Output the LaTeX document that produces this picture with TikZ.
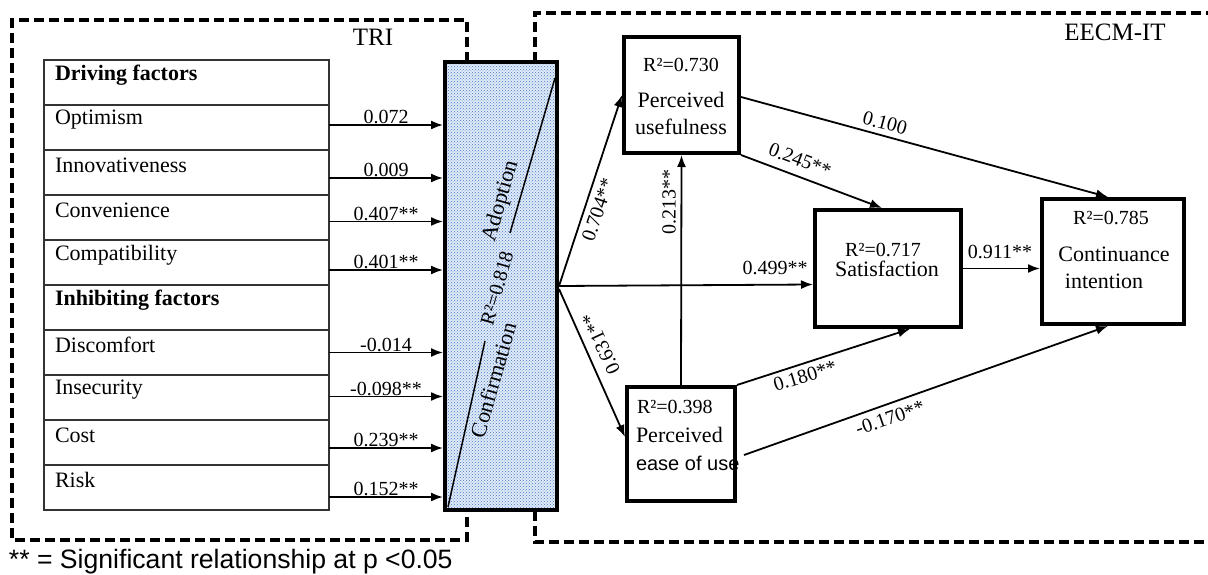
\documentclass[tikz,border=0pt]{standalone}
\usepackage{fontspec}
\setmainfont{Liberation Serif}
\newfontfamily\arialfont{Liberation Sans}
\usetikzlibrary{arrows.meta,patterns}
\definecolor{dotblue}{RGB}{70,120,200}
\definecolor{bgblue}{RGB}{225,235,248}
\begin{document}
\begin{tikzpicture}[x=1pt,y=-1pt,
  every node/.style={inner sep=0pt, outer sep=0pt},
  rowbox/.style={draw=black!80, line width=2pt, minimum width=285pt, minimum height=45pt},
  rowtxt/.style={anchor=west, font=\fontsize{22}{26}\selectfont},
  coef/.style={font=\fontsize{20}{24}\selectfont},
  big/.style={font=\fontsize{22}{26}\selectfont},
  arr/.style={line width=1.8pt, -{Latex[length=12pt,width=9pt]}},
  box/.style={draw, line width=4pt, outer sep=2pt},
  dsh/.style={line width=3.5pt, dash pattern=on 10pt off 5pt},
]
\useasboundingbox (0,0) rectangle (1208,575);

% dashed group frames
\draw[dsh] (467,62) -- (467,20) -- (12,20) -- (12,540) -- (467,540) -- (467,511);
\draw[dsh] (535,62) -- (535,13) -- (1212,13);
\draw[dsh] (535,511) -- (535,542) -- (1212,542);
\node[font=\fontsize{25}{28}\selectfont] (tri) at (373,37) {TRI};
\node[font=\fontsize{25}{28}\selectfont] (eecm) at (1115,32) {EECM-IT};

% table of factors
\foreach \i/\t in {0/{\bfseries Driving factors},1/Optimism,2/Innovativeness,3/Convenience,4/Compatibility,5/{\bfseries Inhibiting factors},6/Discomfort,7/Insecurity,8/Cost,9/Risk}{
  \node[rowbox] (r\i) at (186.5,82.5+45*\i) {};
  \node[rowtxt] (t\i) at ([xshift=11pt,yshift=-15pt]r\i.north west) {\t};
}

% adoption/confirmation box
\node[minimum width=112pt, minimum height=448pt, fill=bgblue,
      postaction={pattern=crosshatch dots, pattern color=dotblue},
      postaction={draw, line width=4pt}, outer sep=2pt] (blue) at (501,286) {};
\draw[line width=1.5pt] (448,507) -- (485,341);
\draw[line width=1.5pt] (510,233) -- (555,78);
\node[big, rotate=74] (conf) at (493,380) {Confirmation};
\node[coef, rotate=74] (r2a) at (497,288) {R²=0.818};
\node[big, rotate=74] (adop) at (501,201) {Adoption};

% arrows from factors
\foreach \i/\s/\v in {1/2.5/0.072,2/-5.5/0.009,3/-4/0.407**,4/-7.5/0.401**,6/0/-0.014,7/1/-0.098**,8/-5.5/0.239**,9/-9.5/0.152**}{
  \draw[arr] ([yshift=\s pt]r\i.east) -- ([yshift=\s pt]r\i.east -| blue.west)
    node[coef, midway, anchor=south, yshift=1pt] {\v};
}

% EECM-IT boxes
\node[box, minimum width=115pt, minimum height=116pt] (pu) at (681.5,95) {};
\node[coef] at (681,65) {R²=0.730};
\node[big] at (681,100) {Perceived};
\node[big] at (681,127) {usefulness};

\node[box, minimum width=108pt, minimum height=114pt] (peou) at (681,444) {};
\node[coef, anchor=west] at (637,407) {R²=0.398};
\node[big, anchor=west] at (636,435) {Perceived};
\node[anchor=west, font=\arialfont\fontsize{20}{24}\selectfont] at (636,463) {ease of use};

\node[box, minimum width=146pt, minimum height=117pt] (sat) at (888,268.5) {};
\node[coef] at (883,250) {R²=0.717};
\node[big] at (887,269) {Satisfaction};

\node[box, minimum width=142pt, minimum height=125pt] (ci) at (1113,261.5) {};
\node[coef] at (1111,218) {R²=0.785};
\node[big] at (1114,254) {Continuance};
\node[big] at (1104,281) {intention};

% structural paths
\draw[arr] (blue.east) -- (pu.west);
\node[coef, rotate=71] at (598,210) {0.704**};
\draw[arr] (blue.east) -- ([yshift=-16pt]sat.west);
\node[coef] at (775,268) {0.499**};
\draw[arr] ([yshift=-3pt]blue.east) -- ([yshift=7pt]peou.west);
\node[coef, rotate=115] at (601,344) {0.631**};
\draw[arr] (peou.north) -- (pu.south);
\node[coef, rotate=90] at (669,202) {0.213**};
\draw[arr] (pu.south east) -- ([xshift=-6pt]sat.north);
\node[coef, rotate=-21] at (800,160) {0.245**};
\draw[arr] ([yshift=-2pt]pu.east) -- ([xshift=-5pt]ci.north);
\node[coef, rotate=-15] at (885,123) {0.100};
\draw[arr] (sat.east) -- (sat.east -| ci.west);
\node[coef] at (1000,252) {0.911**};
\draw[arr] (peou.north east) -- ([xshift=22pt]sat.south);
\node[coef, rotate=17] at (805,376) {0.180**};
\draw[arr] ([xshift=7pt,yshift=-11pt]peou.east) -- ([xshift=-5pt]ci.south);
\node[coef, rotate=19] at (890,418) {-0.170**};

% footnote
\node[anchor=base west, font=\arialfont\fontsize{26.6}{30}\selectfont] (note) at (9,568) {** = Significant relationship at p <0.05};
\end{tikzpicture}
\end{document}
